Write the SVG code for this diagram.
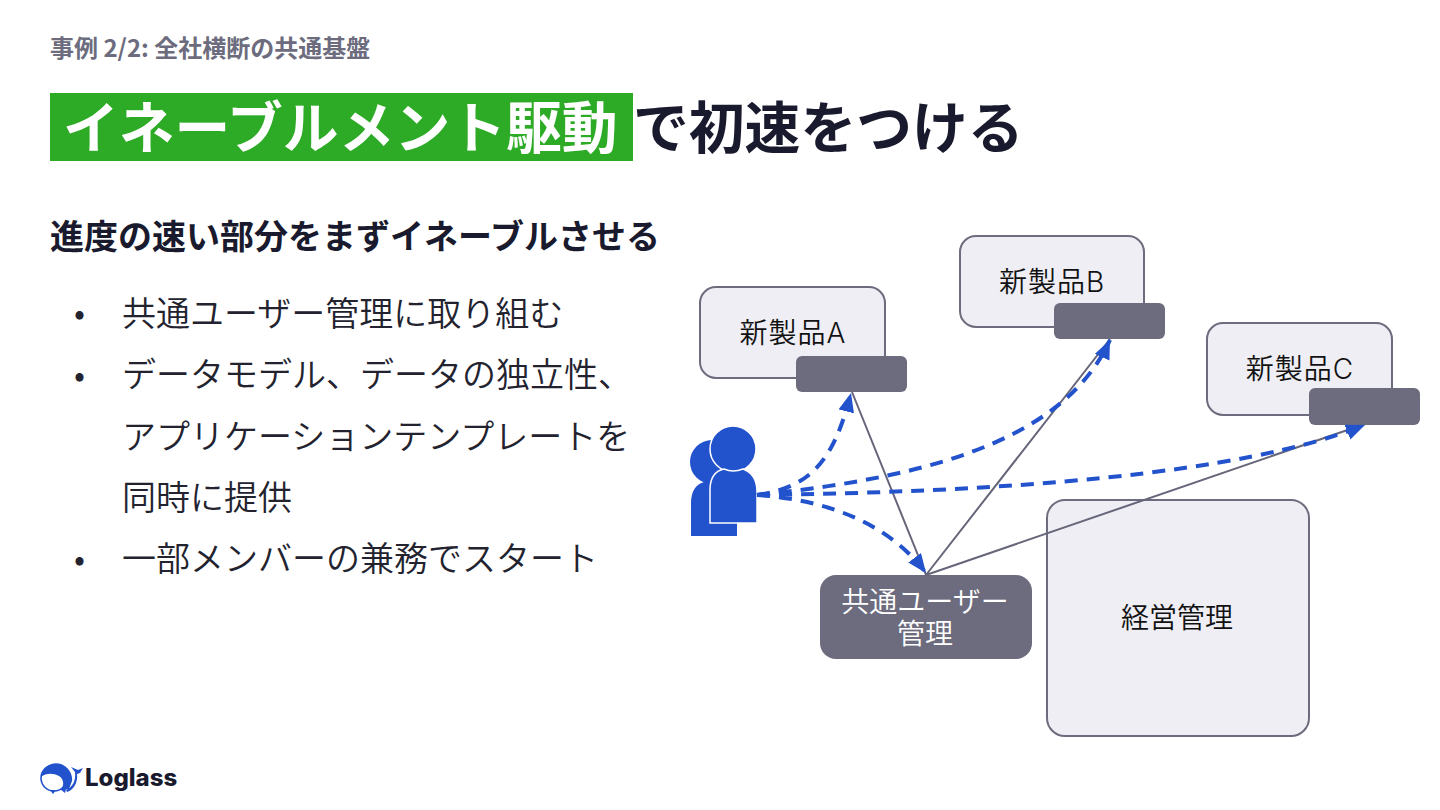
<svg xmlns="http://www.w3.org/2000/svg" width="1440" height="810" viewBox="0 0 1440 810">
<defs>
<marker id="arr" markerUnits="userSpaceOnUse" markerWidth="21" markerHeight="18" refX="19" refY="8" orient="auto"><path d="M0 0L19 8L0 16Z" fill="#2252cc"/></marker>
</defs>
<style>
text{font-family:"Noto Sans CJK JP","Noto Sans",sans-serif}
.box{fill:#eeeef4;stroke:#6c6c7e;stroke-width:2}
.dark{fill:#6c6c7e}
.lbl{font-family:Inter,"Noto Sans CJK JP",sans-serif;font-size:28px;fill:#111;text-anchor:middle;font-weight:350}
.wl{font-size:28px;fill:#fff;text-anchor:middle;font-weight:350}
.body{font-size:34px;fill:#23232f;font-weight:350}
.line{fill:none;stroke:#66667a;stroke-width:2}
.dash{fill:none;stroke:#2252cc;stroke-width:4;stroke-dasharray:13 9;marker-end:url(#arr)}
.p{fill:#2252cc}
</style>
<rect width="1440" height="810" fill="#fff"/>
<text x="50" y="57" font-size="24" font-weight="700" fill="#6c6c7e">事例 2/2: 全社横断の共通基盤</text>
<rect x="50" y="93" width="583" height="68" fill="#2dab26"/>
<text x="63" y="148" font-size="55.8" font-weight="700" fill="#fff">イネーブルメント駆動</text>
<text x="633" y="148" font-size="55.8" font-weight="700" fill="#1a1a2e">で初速をつける</text>
<text x="50" y="249" font-size="34" font-weight="700" fill="#1a1a2e">進度の速い部分をまずイネーブルさせる</text>
<g id="bullets" class="body">
<text x="74" y="325" font-size="33">•</text><text x="122" y="326">共通ユーザー管理に取り組む</text>
<text x="74" y="387" font-size="33">•</text><text x="122" y="387">データモデル、データの独立性、</text>
<text x="122" y="449">アプリケーションテンプレートを</text>
<text x="122" y="510">同時に提供</text>
<text x="74" y="571" font-size="33">•</text><text x="122" y="571">一部メンバーの兼務でスタート</text>
</g>
<g id="node-a"><rect class="box" x="700" y="287" width="185" height="91" rx="16"/><text class="lbl" x="793" y="343" letter-spacing="1">新製品A</text><rect class="dark" x="796" y="356" width="111" height="36" rx="6"/></g>
<g id="node-b"><rect class="box" x="960" y="236" width="184" height="91" rx="16"/><text class="lbl" x="1052" y="292" letter-spacing="1">新製品B</text><rect class="dark" x="1054" y="303" width="111" height="36" rx="6"/></g>
<g id="node-c"><rect class="box" x="1207" y="323" width="185" height="92" rx="16"/><text class="lbl" x="1300" y="379" letter-spacing="1">新製品C</text><rect class="dark" x="1309" y="388" width="111" height="37" rx="6"/></g>
<g id="node-common"><rect class="dark" x="820" y="575" width="212" height="84" rx="16"/><text class="wl" x="925" y="612">共通ユーザー</text><text class="wl" x="925" y="644">管理</text></g>
<g id="node-mgmt"><rect class="box" x="1047" y="500" width="262" height="236" rx="18"/><text class="lbl" x="1177" y="628">経営管理</text></g>
<g id="users">
<path class="p" d="M691 536V503Q691 486 704 482H725L737 500V536Z"/>
<circle class="p" cx="712" cy="462" r="22"/>
<circle class="p" cx="733" cy="449" r="23" stroke="#fff" stroke-width="1.5"/>
<path class="p" stroke="#fff" stroke-width="1.5" d="M710 523V490Q710 472 724 469Q733 473 743 469Q757 474 757 492V523Z"/>
</g>
<g id="connectors">
<path class="line" d="M852 392L926 575M1110 339L926 575M1365 424L926 575"/>
<path class="dash" d="M757 495C815 487 835 455 851 393"/>
<path class="dash" d="M757 495C900 480 1060 450 1110 340"/>
<path class="dash" d="M757 495C1000 492 1240 475 1365 425"/>
<path class="dash" d="M757 495C830 500 890 525 926 573"/>
</g>
<g id="logo">
<circle cx="54" cy="778" r="13" fill="none" stroke="#2252cc" stroke-width="1.6"/>
<path d="M41 777C42 767 52 761 61 764C69 767 73 775 72 781L69 789L61 790C65 784 63 778 59 776C53 773 46 773 41 777Z" fill="#2252cc"/>
<path d="M66 790C73 787 76 780 75 772L71 767L78 770L83 768L80 773L77 774C78 782 74 790 67 792Z" fill="#2252cc"/>
<path d="M50 790l6 0l-3 4ZM60 789l6 0l-1 4Z" fill="#2252cc"/>
<text x="85" y="786" style="font-family:Inter,'Noto Sans',sans-serif" font-size="24" font-weight="800" fill="#1a1a2e">Loglass</text>
</g>
</svg>
